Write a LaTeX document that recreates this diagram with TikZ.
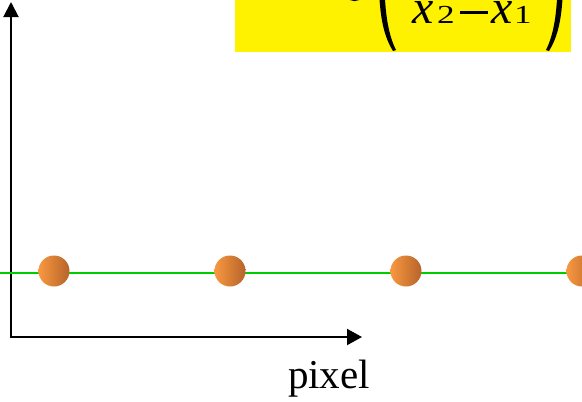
\documentclass[tikz,border=0pt]{standalone}
\usepackage{fontspec}
\usepackage{graphicx}
\setmainfont{Liberation Serif}
\usetikzlibrary{arrows.meta}
\definecolor{dotlight}{RGB}{248,152,64}
\definecolor{dotdark}{RGB}{182,100,42}
\definecolor{gridgreen}{RGB}{0,204,0}
\begin{document}
\begin{tikzpicture}[x=1pt,y=-1pt,
  axisline/.style={line width=2pt,{Triangle[length=15pt,width=15pt]}-{Triangle[length=15pt,width=16pt]}},
  greenline/.style={gridgreen,line width=2pt},
  dot/.style={circle,minimum size=31pt,inner sep=0pt,left color=dotlight,right color=dotdark,draw=none},
  bigx/.style={inner sep=0pt,anchor=base west,text height=20pt,text depth=0pt,font=\fontsize{48}{48}\selectfont\itshape},
  subdigit/.style={inner sep=0pt,anchor=base west,text height=17pt,text depth=0pt,font=\fontsize{26}{26}\selectfont},
  label/.style={inner sep=0pt,anchor=base,font=\fontsize{41}{41}\selectfont}]
\useasboundingbox (0,0) rectangle (582,402);
\clip (0,0) rectangle (582,402);
\fill[white] (0,0) rectangle (582,402);
% yellow formula box
\fill[yellow] (235,0) rectangle (571,52);
% partial glyph bottom
\fill (346,-3) .. controls (351,2.5) and (358,2.5) .. (363,-3) -- (362,-4) .. controls (357,0) and (352,0) .. (347,-4) -- cycle;
% parentheses
\fill (379,-20) .. controls (379,20) and (385,38) .. (393,51) -- (396,50) .. controls (389,36) and (384.5,15) .. (384.5,-20) -- cycle;
\fill (563,-20) .. controls (563,20) and (557,38) .. (549,51) -- (546,50) .. controls (553,36) and (557.5,15) .. (557.5,-20) -- cycle;
% denominator
\node[bigx] (xa) at (412,23) {x};
\node[subdigit] (two) at (437,23) {\scalebox{1.35}[1]{2}};
\fill (460,10.5) rectangle (488,14);
\node[bigx] (xb) at (491,23) {x};
\node[subdigit] (one) at (514,23) {\scalebox{1.35}[1]{1}};
% axes
\coordinate (ytip) at (11,2);
\coordinate (origin) at (11,337);
\coordinate (xtip) at (362,337);
\draw[axisline] (ytip) -- (origin) -- (xtip);
% green line
\coordinate (gl) at (0,273);
\coordinate (gr) at (582,273);
\draw[greenline] (gl) -- (gr);
% dots
\node[dot] (d1) at (54,271) {};
\node[dot] (d2) at (230,271) {};
\node[dot] (d3) at (406,271) {};
\node[dot] (d4) at (582,271) {};
% label
\node[label] (pix) at (329,388) {pixel};
\end{tikzpicture}
\end{document}
